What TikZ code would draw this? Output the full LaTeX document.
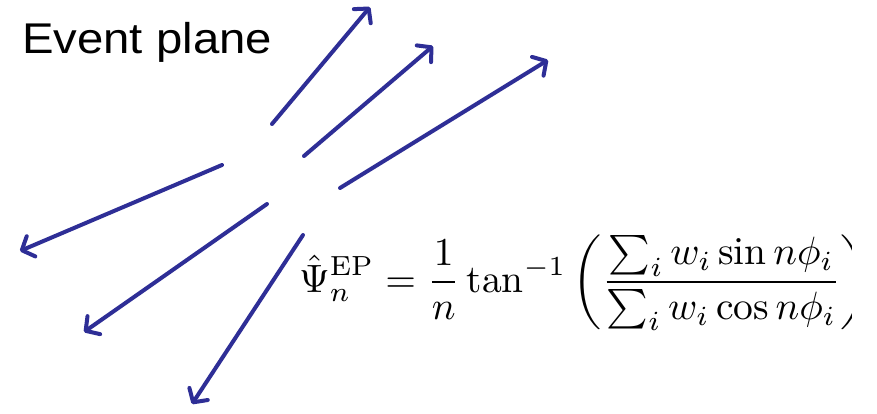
\documentclass[tikz,border=0pt]{standalone}
\usepackage{amsmath}
\usepackage{graphicx}
\usepackage{fontspec}
\newfontfamily\arialfont{Liberation Sans}
\usetikzlibrary{arrows.meta}
\definecolor{arrowblue}{RGB}{46,46,150}
\tikzset{
  ray/.style={draw=arrowblue, line width=4pt, line cap=round,
    -{Straight Barb[length=10pt,width=22pt,line cap=round,line join=round]}},
}
\begin{document}
\begin{tikzpicture}[x=1pt,y=-1pt]
\useasboundingbox[fill=white] (0,0) rectangle (877,414);
% title
\node[anchor=base west, inner sep=0pt] (title) at (22,54)
  {\scalebox{1.1}[1]{\fontsize{43}{50}\selectfont\arialfont Event plane}};
% arrows
\coordinate (s1) at (272,124); \coordinate (e1) at (370,7);
\coordinate (s2) at (304,156); \coordinate (e2) at (433,46);
\coordinate (s3) at (340,188); \coordinate (e3) at (548,60);
\coordinate (s4) at (222,165); \coordinate (e4) at (20,251);
\coordinate (s5) at (267,204); \coordinate (e5) at (84,332);
\coordinate (s6) at (303,235); \coordinate (e6) at (192,404);
\draw[ray] (s1) -- (e1);
\draw[ray] (s2) -- (e2);
\draw[ray] (s3) -- (e3);
\draw[ray] (s4) -- (e4);
\draw[ray] (s5) -- (e5);
\draw[ray] (s6) -- (e6);
% formula (clipped at right like the reference)
\begin{scope}
\clip (290,200) rectangle (851,360);
\node[anchor=base west, inner sep=0pt] (formula) at (299,292)
  {\scalebox{3.95}{$\displaystyle \hat{\Psi}_n^{\mathrm{EP}} = \frac{1}{n}\tan^{-1}\,\biggl(\frac{\sum_i w_i \sin n\phi_i}{\sum_i w_i \cos n\phi_i}\biggr)$}};
\end{scope}
\end{tikzpicture}
\end{document}
